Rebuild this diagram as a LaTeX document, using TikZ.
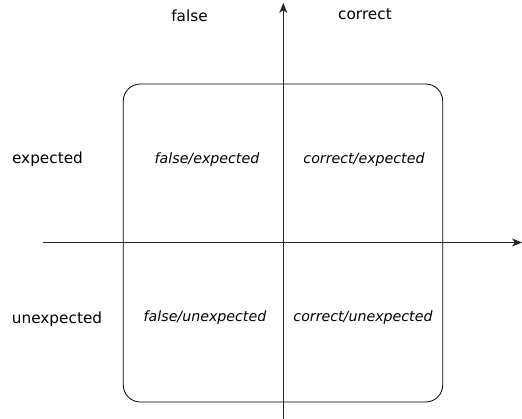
\documentclass[tikz,border=0pt]{standalone}
\usepackage{fontspec}
\setmainfont{DejaVu Sans}
\usepackage{tikz}
\usetikzlibrary{positioning}
\usetikzlibrary{arrows.meta}

\begin{document}
\begin{tikzpicture}[x=1pt, y=-1pt,
		axis/.style={line width=0.9pt, black!85, -{Stealth[length=10pt, width=8pt, inset=3pt]}},
		outer/.style={inner sep=0pt, font=\fontsize{15.3}{18}\selectfont},
		inner/.style={inner sep=0pt, font=\fontsize{14.2}{17}\itshape\selectfont}]
				\useasboundingbox (0,0) rectangle (522,419);
				
				\node[draw, line width=0.8pt, rounded corners=17pt, minimum width=319.4pt, minimum height=318pt] (box) at (283,243) {};
				
				\coordinate (xstart) at (43,242.5);
				\coordinate (xend) at (522,242.5);
				\coordinate (ystart) at (283.3,419);
				\coordinate (yend) at (283.3,3);
				
				\draw[axis] (xstart) -- (xend);
				\draw[axis] (ystart) -- (yend);
				
				\node[outer] (false) at (189.5,16) {false};
				\node[outer] (correct) at (365,14) {correct};
				\node[outer] (expected) at (47.5,159.5) {expected};
				\node[outer] (unexpected) at (57,319) {unexpected};
				
				\node[inner] (fe) at (207,159.5) {false/expected};
				\node[inner] (ce) at (364,159.5) {correct/expected};
				\node[inner] (fu) at (205,317.5) {false/unexpected};
				\node[inner] (cu) at (363,317.5) {correct/unexpected};
			\end{tikzpicture}
\end{document}
